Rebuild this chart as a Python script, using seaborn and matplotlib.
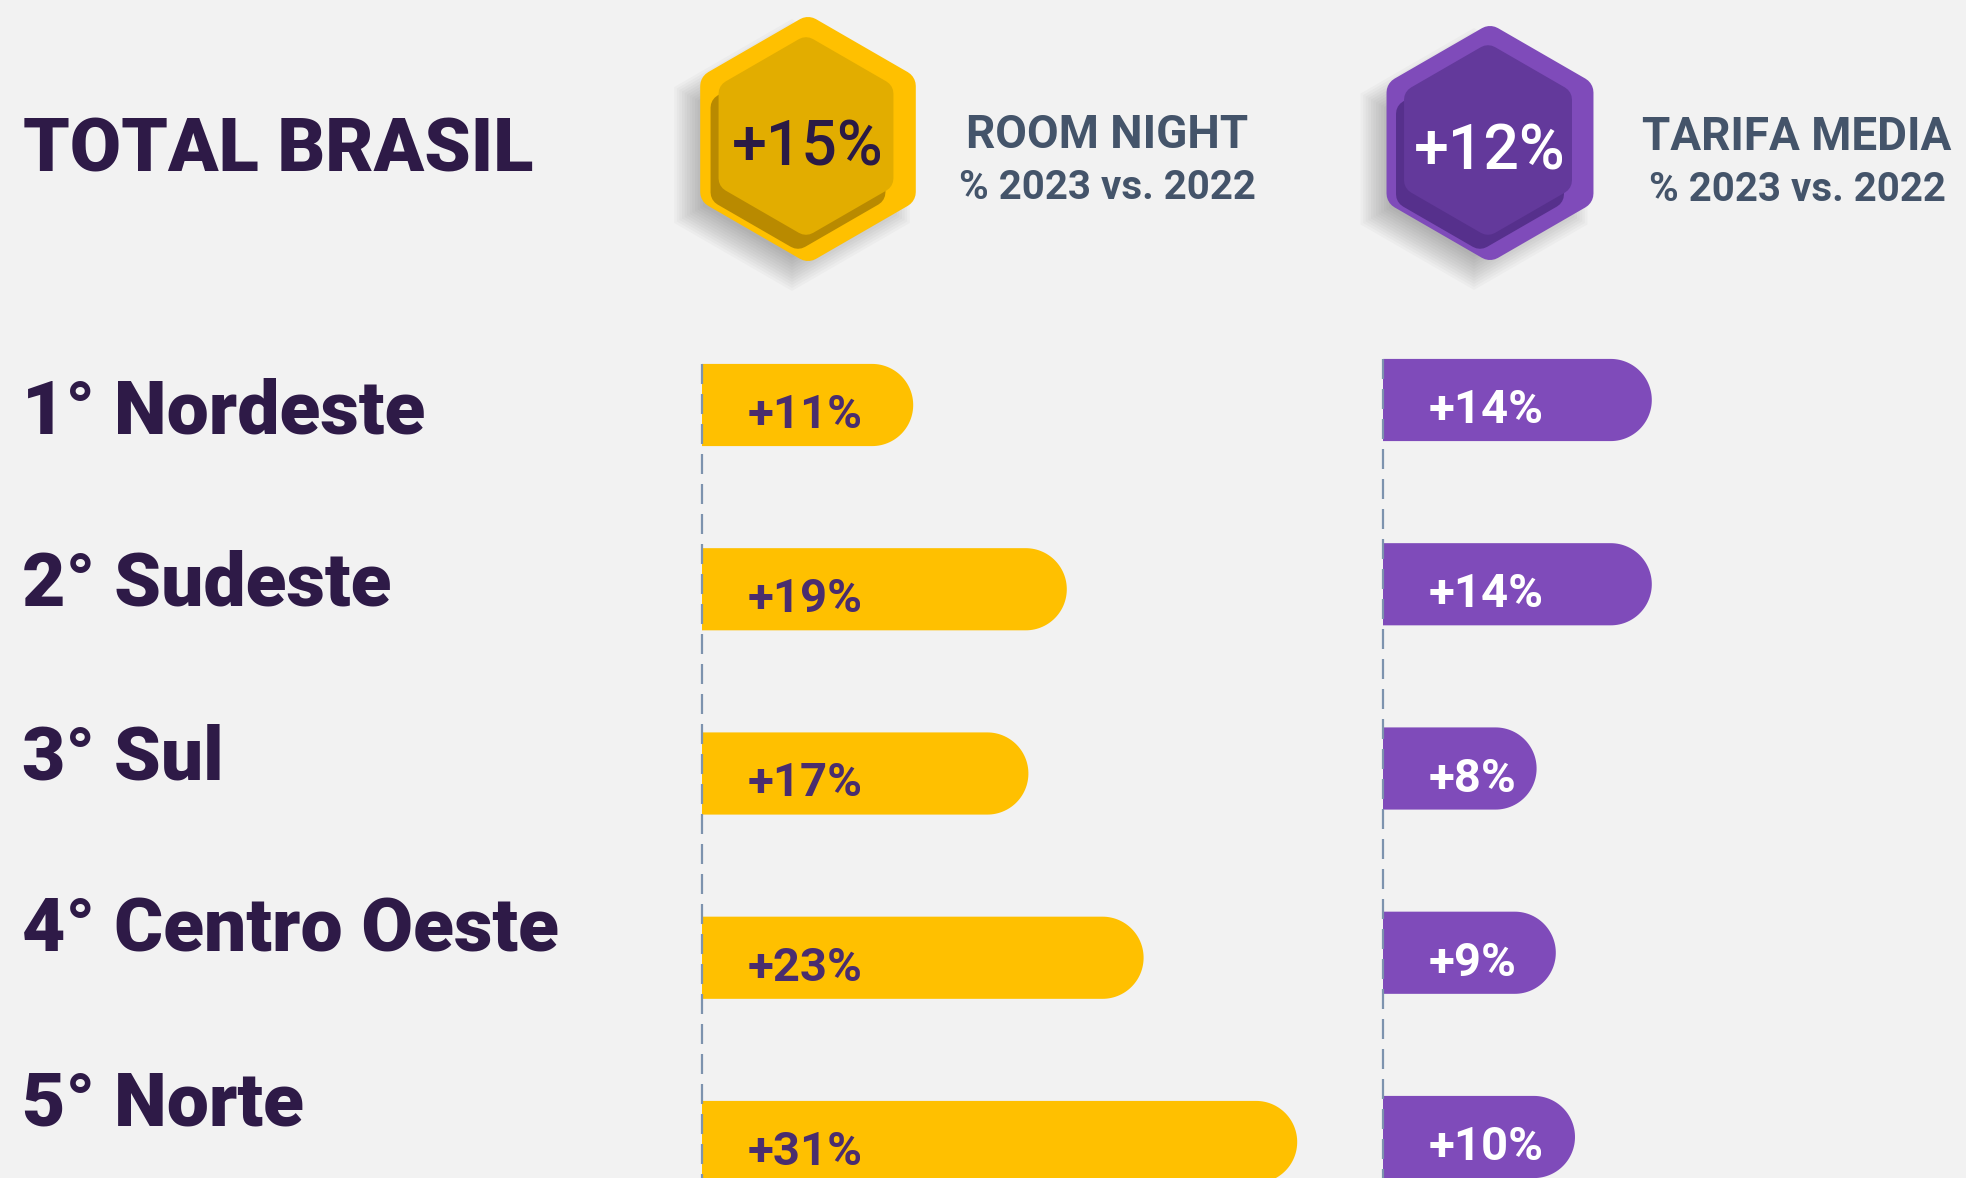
import numpy as np
import matplotlib
matplotlib.use("Agg")
import matplotlib.pyplot as plt
from matplotlib.patches import Polygon
import seaborn as sns

# data
regions = ["1° Nordeste", "2° Sudeste", "3° Sul", "4° Centro Oeste", "5° Norte"]
room_night = [11, 19, 17, 23, 31]
tarifa_media = [14, 14, 8, 9, 10]
total_titles = ["ROOM NIGHT", "TARIFA MEDIA"]
total_values = [15, 12]
subtitle = "% 2023 vs. 2022"
headline = "TOTAL BRASIL"

BG = "#F2F2F2"
YELLOW = "#FFC000"
PURPLE = "#7F4BBA"
DARK = "#2E1A47"
SLATE = "#44546A"
W, H = 1966, 1178
PX_PER_PCT = 19.2


def px_rect(left, top, width, height):
    return [left / W, 1 - (top + height) / H, width / W, height / H]


def hex_pts(cx, cy, R):
    ang = np.deg2rad(np.arange(6) * 60 + 90)
    return np.column_stack([cx + R * np.cos(ang), cy + R * np.sin(ang)])


def rounded_hex(ax, cx, cy, R, r, color, z):
    ax.add_patch(Polygon(hex_pts(cx, cy, R), closed=True, facecolor=color,
                         edgecolor=color, linewidth=2 * r * 0.72,
                         joinstyle="round", zorder=z))


def badge(ax, cx, cy, R, outer, inner, shade, value, txt_color):
    # soft drop shadow
    for k in range(12):
        ax.add_patch(Polygon(hex_pts(cx - 16, cy + 16, R + 30 - 3 * k), closed=True,
                             facecolor="black", edgecolor="none", alpha=0.022, zorder=1))
    rounded_hex(ax, cx, cy, R, 16, outer, 2)
    Ri = R * 0.8
    rounded_hex(ax, cx - 10, cy + 11, Ri, 14, shade, 3)
    rounded_hex(ax, cx - 2, cy - 3, Ri, 14, inner, 4)
    ax.text(cx, cy + 26, f"+{value}%", ha="center", va="baseline", fontsize=45,
            fontweight="medium", color=txt_color, zorder=5)


def round_bars(ax):
    (x0p, y0p), (x1p, y1p) = ax.transData.transform([(0, 0), (1, 1)])
    sx, sy = abs(x1p - x0p), abs(y1p - y0p)
    for bar in list(ax.patches):
        x, y, w, h = bar.get_x(), bar.get_y(), bar.get_width(), bar.get_height()
        ry = h / 2
        rx = ry * sy / sx
        t = np.linspace(-np.pi / 2, np.pi / 2, 60)
        arc = np.column_stack([x + w - rx + rx * np.cos(t), y + ry + ry * np.sin(t)])
        verts = np.vstack([[x, y], arc, [x, y + h]])
        ax.add_patch(Polygon(verts, closed=True, facecolor=bar.get_facecolor(),
                             edgecolor="none", zorder=2))
        bar.remove()


sns.set_theme(style="white")
plt.rcParams["font.family"] = ["Roboto", "DejaVu Sans"]

fig = plt.figure(figsize=(W / 100, H / 100), dpi=100)
fig.patch.set_facecolor(BG)

# header layer in pixel units
ax_h = fig.add_axes([0, 0, 1, 1])
ax_h.set_xlim(0, W)
ax_h.set_ylim(H, 0)
ax_h.axis("off")

ax_h.text(23, 171, headline, ha="left", va="baseline", fontsize=53.5,
          fontweight="black", color=DARK)

badge(ax_h, 808, 139, 106, YELLOW, "#E2AD00", "#B98A00", total_values[0], "#2B1A45")
badge(ax_h, 1490, 143, 101, PURPLE, "#63399B", "#56308C", total_values[1], "white")

for cx, title, base in [(1107, total_titles[0], 148), (1797, total_titles[1], 150)]:
    ax_h.text(cx, base, title, ha="center", va="baseline", fontsize=33,
              fontweight="bold", color=SLATE)
    ax_h.text(cx, base + 51, subtitle, ha="center", va="baseline", fontsize=29,
              fontweight="bold", color=SLATE)

# region labels
for i, name in enumerate(regions):
    fig.text(22 / W, 1 - (433 + 173 * i) / H, name, ha="left", va="baseline",
             fontsize=54, fontweight="black", color=DARK)

# bars
panels = [
    (room_night, YELLOW, "#4A2D6E", 702, 405, 34),
    (tarifa_media, PURPLE, "white", 1383, 400, (W - 1383) / PX_PER_PCT),
]
step = 184.25
for values, color, lab_color, left, first_c, xmax in panels:
    ax = fig.add_axes(px_rect(left, 300, xmax * PX_PER_PCT, H - 300))
    sns.barplot(x=values, y=regions, orient="h", color=color, saturation=1,
                width=0.446, ax=ax)
    ax.set_xlim(0, xmax)
    ax.set_ylim((H - first_c) / step, (300 - first_c) / step)
    ax.axis("off")
    ax.patch.set_alpha(0)
    round_bars(ax)
    ax.plot([0, 0], [-0.223, 5], color="#7D93AE", lw=1.6, ls=(0, (9, 4.5)),
            clip_on=False, zorder=4)
    for i, v in enumerate(values):
        ax.annotate(f"+{v}%", xy=(0, i), xytext=(46 * 0.72, -23 * 0.72),
                    textcoords="offset points", ha="left", va="baseline",
                    fontsize=34, fontweight="semibold", color=lab_color, zorder=5)

fig.savefig("out.png", dpi=100, facecolor=fig.get_facecolor())
